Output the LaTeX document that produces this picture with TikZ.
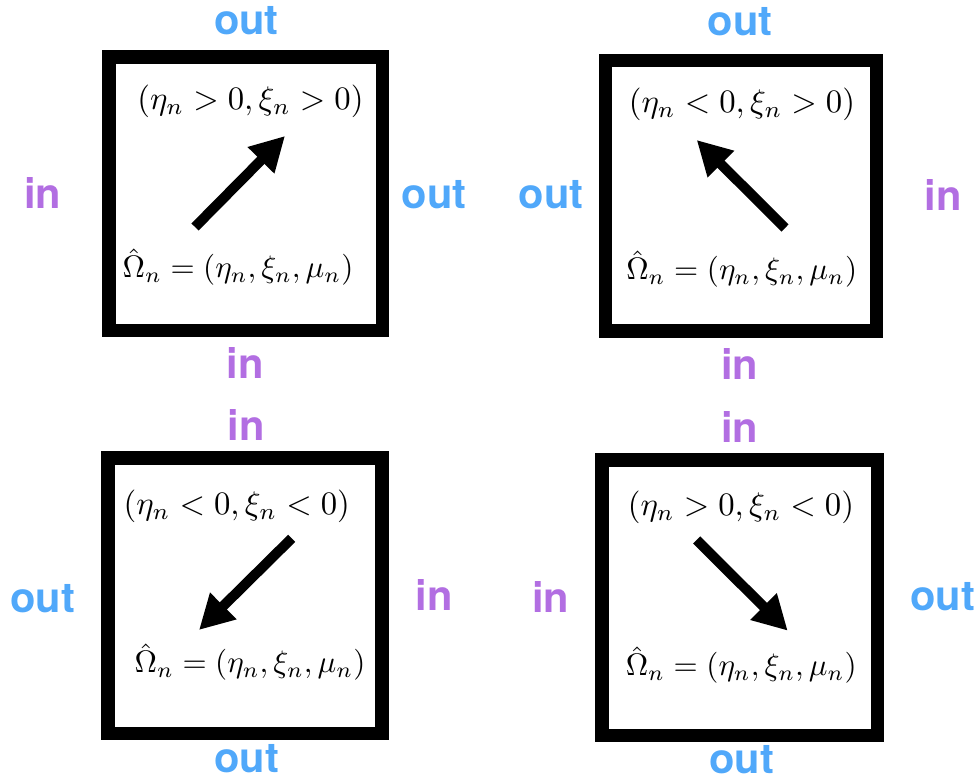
\documentclass[tikz,border=0pt]{standalone}
\usepackage{fontspec}
\newfontfamily\lblfont{TeX Gyre Heros}
\usetikzlibrary{arrows.meta}
\definecolor{outblue}{RGB}{80,168,250}
\definecolor{inpurple}{RGB}{178,110,226}
\newcommand{\condtext}[1]{\scalebox{0.975}{$#1$}}
\newcommand{\omegatext}{\scalebox{0.925}{$\hat{\Omega}_n = (\eta_n, \xi_n, \mu_n)$}}
\tikzset{
  cellbox/.style={line width=4pt, line join=miter},
  dirarrow/.style={line width=3pt, -{Triangle[length=10.2pt,width=10.5pt]}},
  outlbl/.style={anchor=base, inner sep=0pt, text=outblue, font=\lblfont\bfseries\fontsize{12.4}{14}\selectfont},
  inlbl/.style={anchor=base, inner sep=0pt, text=inpurple, font=\lblfont\bfseries\fontsize{12.4}{14}\selectfont},
  mathlbl/.style={anchor=base, inner sep=0pt}
}
\begin{document}
\begin{tikzpicture}[x=0.298pt, y=-0.298pt]
\useasboundingbox (0,0) rectangle (980,780);

% ---------- top-left ----------
\draw[cellbox] (109,57) rectangle (382.5,330.5);
\node[mathlbl] (tlA) at (250.5,110) {\condtext{(\eta_n > 0, \xi_n > 0)}};
\node[mathlbl] (tlB) at (238,278) {\omegatext};
\coordinate (tlS) at (195,227);
\coordinate (tlE) at (285,136);
\draw[dirarrow] (tlS) -- (tlE);
\node[outlbl] (tlT) at (246.5,35) {out};
\node[inlbl]  (tlL) at (42.7,208.3) {in};
\node[outlbl] (tlR) at (434,208.3) {out};
\node[inlbl]  (tlD) at (245,379) {in};

% ---------- top-right ----------
\draw[cellbox] (605.5,60.5) rectangle (876.7,331);
\node[mathlbl] (trA) at (742,112.5) {\condtext{(\eta_n < 0, \xi_n > 0)}};
\node[mathlbl] (trB) at (741.7,280) {\omegatext};
\coordinate (trS) at (785,228);
\coordinate (trE) at (696.7,140);
\draw[dirarrow] (trS) -- (trE);
\node[outlbl] (trT) at (740,36) {out};
\node[outlbl] (trL) at (551,208.3) {out};
\node[inlbl]  (trR) at (943,211) {in};
\node[inlbl]  (trD) at (739.5,380) {in};

% ---------- bottom-left ----------
\draw[cellbox] (108,458) rectangle (382,733.5);
\node[mathlbl] (blA) at (236.8,515) {\condtext{(\eta_n < 0, \xi_n < 0)}};
\node[mathlbl] (blB) at (250,673) {\omegatext};
\coordinate (blS) at (291.7,538.3);
\coordinate (blE) at (199,630);
\draw[dirarrow] (blS) -- (blE);
\node[inlbl]  (blT) at (246,441) {in};
\node[outlbl] (blL) at (42.7,612.7) {out};
\node[inlbl]  (blR) at (434,610.7) {in};
\node[outlbl] (blD) at (246.7,772) {out};

% ---------- bottom-right ----------
\draw[cellbox] (602,460) rectangle (877.7,735.7);
\node[mathlbl] (brA) at (741,516) {\condtext{(\eta_n > 0, \xi_n < 0)}};
\node[mathlbl] (brB) at (741.2,676) {\omegatext};
\coordinate (brS) at (696.7,540);
\coordinate (brE) at (787.7,630.7);
\draw[dirarrow] (brS) -- (brE);
\node[inlbl]  (brT) at (739.5,442.7) {in};
\node[inlbl]  (brL) at (550.5,612.7) {in};
\node[outlbl] (brR) at (942.5,610.7) {out};
\node[outlbl] (brD) at (741.5,773) {out};
\end{tikzpicture}
\end{document}
